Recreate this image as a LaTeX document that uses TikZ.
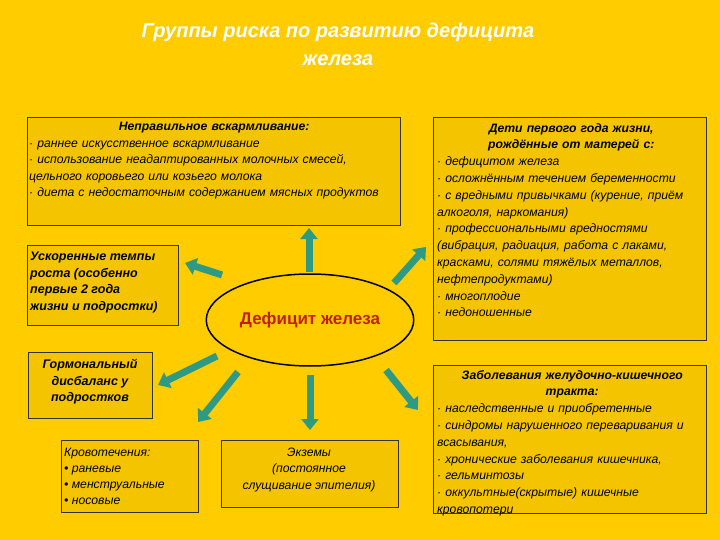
\documentclass[tikz,border=0pt]{standalone}
\usepackage{fontspec}
\setmainfont{Liberation Sans}
\usetikzlibrary{arrows.meta,shapes.geometric}
\definecolor{bg}{HTML}{FFCC00}
\definecolor{bx}{HTML}{F5C400}
\definecolor{ar}{HTML}{2E9A84}
\definecolor{rd}{HTML}{C0200A}
\tikzset{x=1pt,y=-1pt,
 box/.style={draw=black!80,fill=bx,line width=0.8pt,inner sep=0pt,anchor=north west},
 txt/.style={font=\fontsize{12.2}{16.6}\selectfont\itshape,align=left,anchor=north west,inner sep=2pt},
 arr/.style={draw=ar,line width=7pt,-{Triangle[width=17pt,length=11pt]}}}
\begin{document}
\begin{tikzpicture}
\useasboundingbox[fill=bg] (0,0) rectangle (720,540);
\node[font=\fontsize{20}{28}\selectfont\bfseries\itshape,text=white,align=center] (t) at (338,44) {Группы риска по развитию дефицита\\железа};
\draw[box] (27,117) rectangle (400,225);
\node[txt,text width=370pt] (b1) at (27,120) {{\centering\bfseries Неправильное вскармливание:\par}\raggedright
\textperiodcentered\ раннее искусственное вскармливание\\
\textperiodcentered\ использование неадаптированных молочных смесей, цельного коровьего или козьего молока\\
\textperiodcentered\ диета с недостаточным содержанием мясных продуктов};
\draw[box] (27,245) rectangle (178,325);
\node[txt,font=\fontsize{12.5}{16.5}\selectfont\bfseries\itshape] (b2) at (28,250) {Ускоренные темпы\\роста (особенно\\первые 2 года\\жизни и подростки)};
\draw[box] (28,352) rectangle (152,418);
\node[txt,font=\fontsize{12.5}{16.5}\selectfont\bfseries\itshape,align=center,anchor=center] (b3) at (90,382) {Гормональный\\дисбаланс у\\подростков};
\draw[box] (61,440) rectangle (198,512);
\node[txt,font=\fontsize{12.2}{16}\selectfont\itshape,anchor=west] (b4) at (62,476) {Кровотечения:\\• раневые\\• менструальные\\• носовые};
\draw[box] (221,440) rectangle (398,507);
\node[txt,font=\fontsize{12.2}{16.5}\selectfont\itshape,align=center,anchor=center] (b5) at (309,470) {Экземы\\(постоянное\\слущивание эпителия)};
\draw[box] (433,117) rectangle (706,340);
\node[txt,text width=268pt,font=\fontsize{12.2}{16.8}\selectfont\itshape] (b6) at (435,121) {{\centering\bfseries Дети первого года жизни,\\рождённые от матерей с:\par}\raggedright
\textperiodcentered\ дефицитом железа\\
\textperiodcentered\ осложнённым течением беременности\\
\textperiodcentered\ с вредными привычками (курение, приём алкоголя, наркомания)\\
\textperiodcentered\ профессиональными вредностями (вибрация, радиация, работа с лаками, красками, солями тяжёлых металлов, нефтепродуктами)\\
\textperiodcentered\ многоплодие\\
\textperiodcentered\ недоношенные};
\draw[box] (433,365) rectangle (706,513);
\node[txt,text width=270pt,font=\fontsize{12.2}{16.8}\selectfont\itshape] (b7) at (435,368) {{\centering\bfseries Заболевания желудочно-кишечного\\тракта:\par}\raggedright
\textperiodcentered\ наследственные и приобретенные\\
\textperiodcentered\ синдромы нарушенного переваривания и всасывания,\\
\textperiodcentered\ хронические заболевания кишечника,\\
\textperiodcentered\ гельминтозы\\
\textperiodcentered\ оккультные(скрытые) кишечные кровопотери};
\node[draw=black,line width=1.5pt,ellipse,minimum width=192pt,minimum height=92pt,fill=bg,
 font=\fontsize{17}{20}\selectfont\bfseries,text=rd] (c) at (310,320) {Дефицит железа};
\coordinate (a1s) at (309,272); \coordinate (a1e) at (309,228);
\draw[arr] (a1s) -- (a1e);
\coordinate (a2s) at (222,275); \coordinate (a2e) at (185,263);
\draw[arr] (a2s) -- (a2e);
\coordinate (a3s) at (394,283); \coordinate (a3e) at (426,247);
\draw[arr] (a3s) -- (a3e);
\coordinate (a4s) at (217,356); \coordinate (a4e) at (158,385);
\draw[arr] (a4s) -- (a4e);
\coordinate (a5s) at (238,372); \coordinate (a5e) at (198,422);
\draw[arr] (a5s) -- (a5e);
\coordinate (a6s) at (310,375); \coordinate (a6e) at (310,430);
\draw[arr] (a6s) -- (a6e);
\coordinate (a7s) at (386,370); \coordinate (a7e) at (418,410);
\draw[arr] (a7s) -- (a7e);
\end{tikzpicture}
\end{document}
